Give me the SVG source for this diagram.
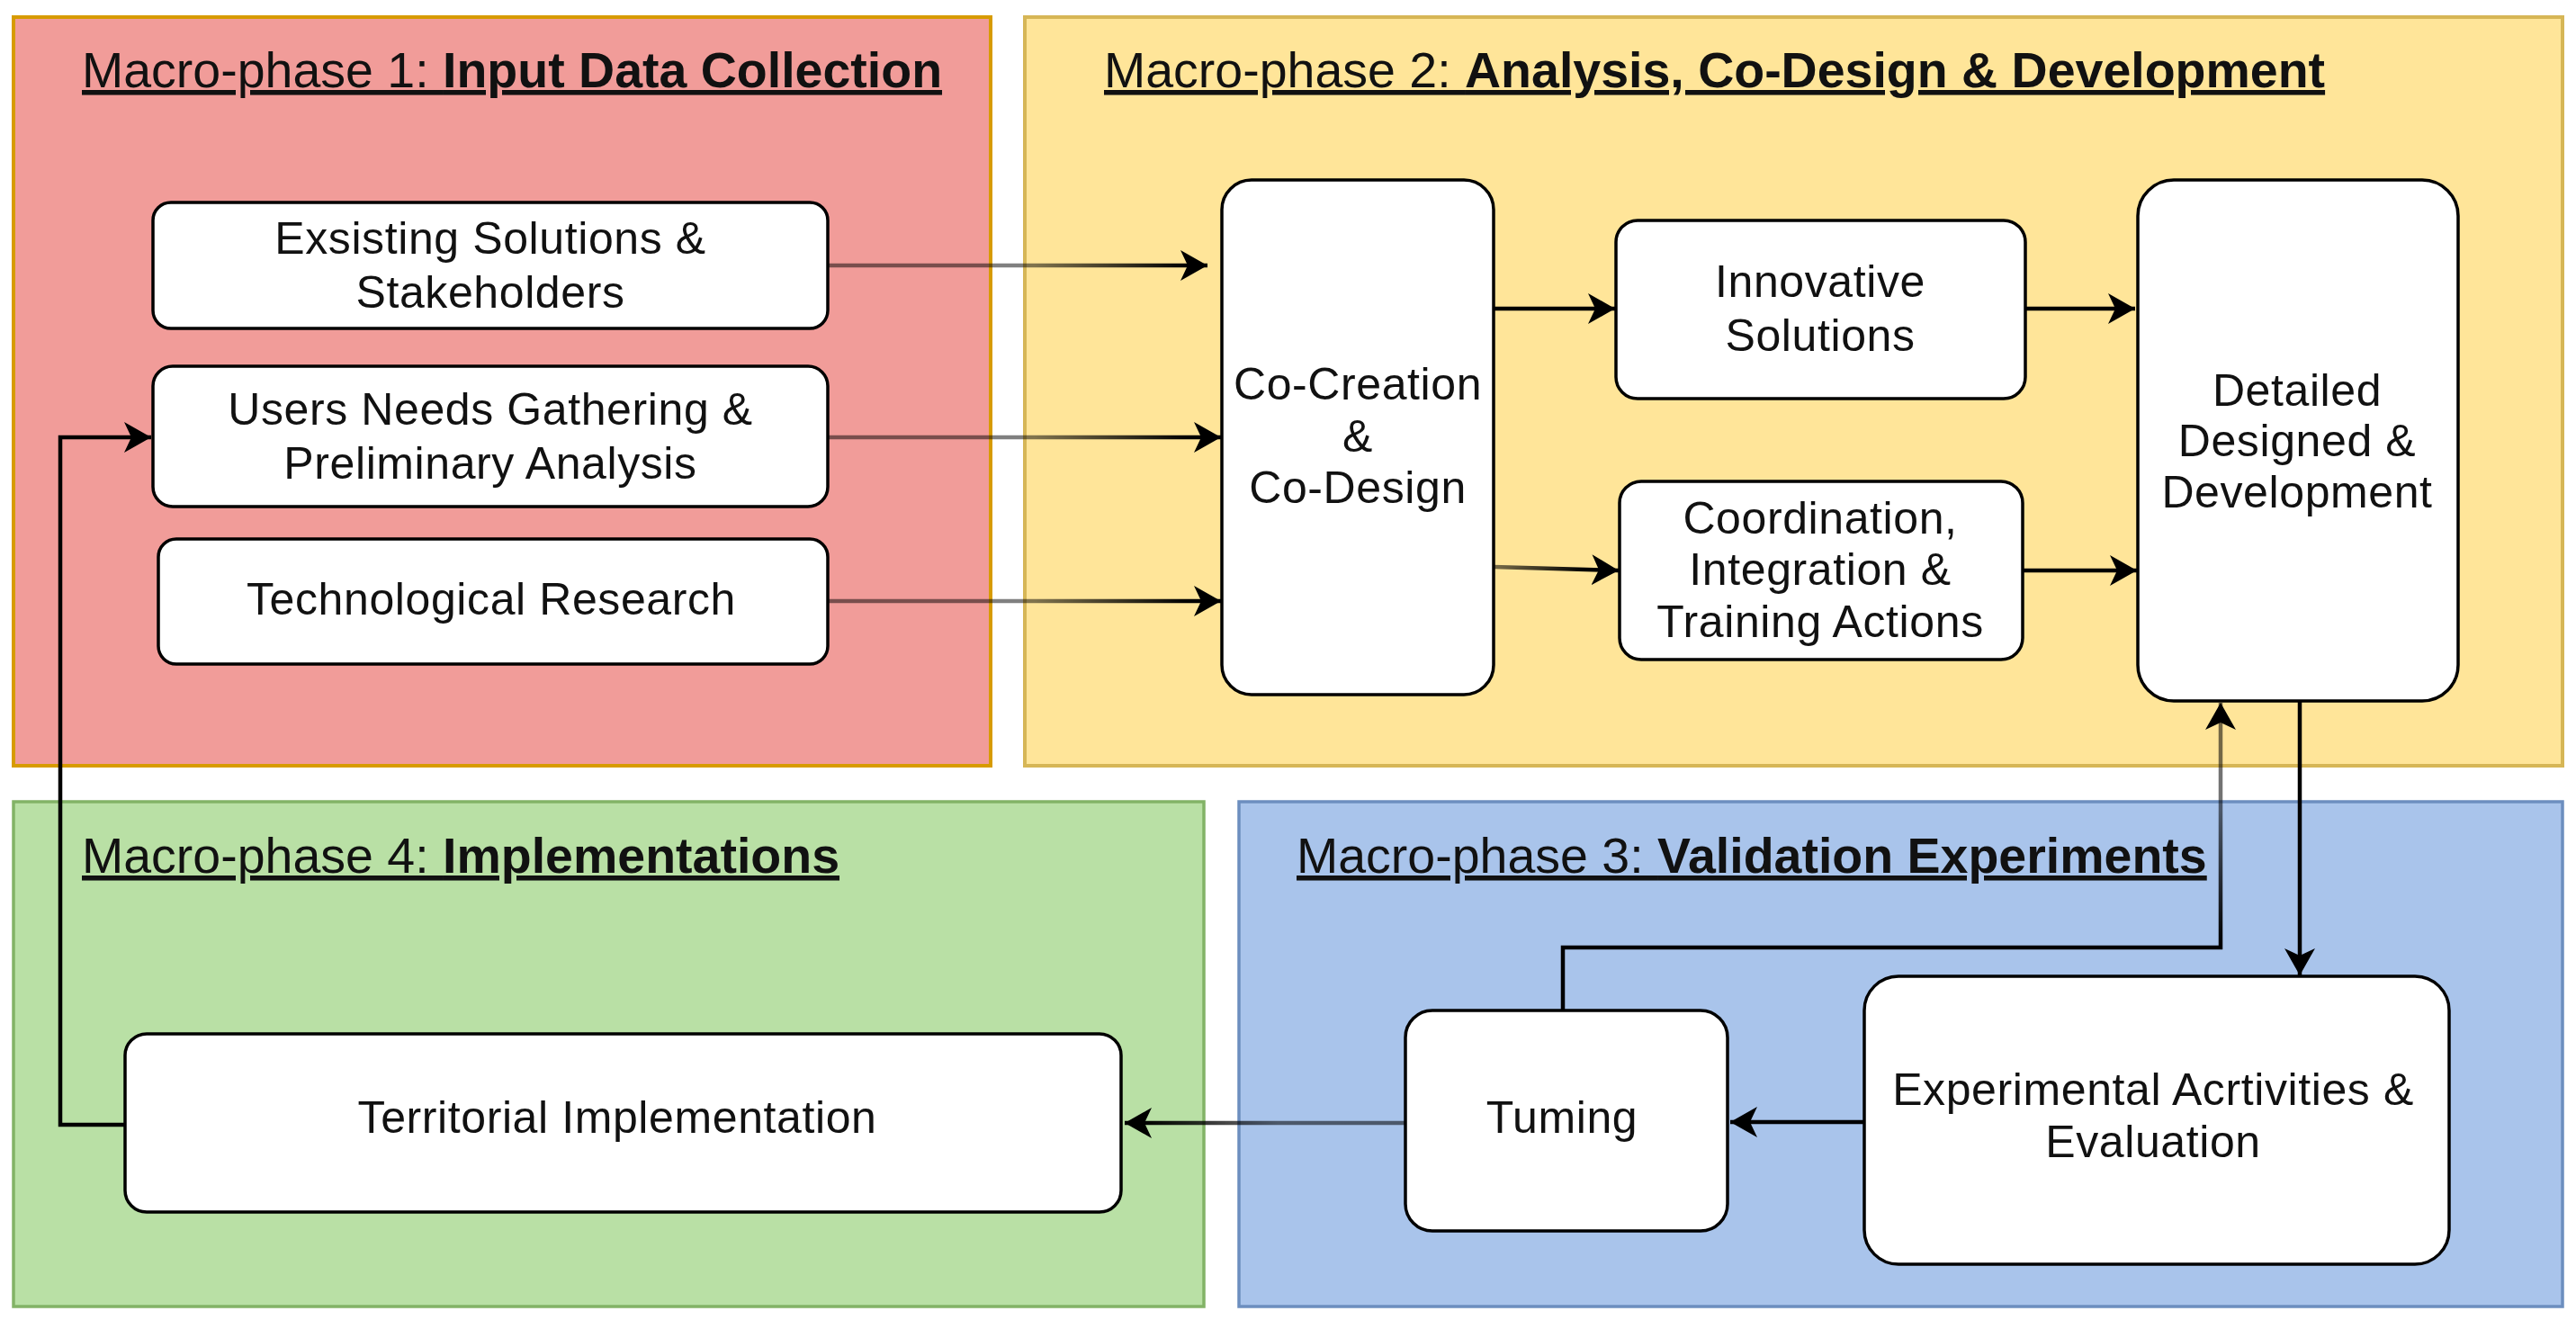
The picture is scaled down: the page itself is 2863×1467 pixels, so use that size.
<svg xmlns="http://www.w3.org/2000/svg" width="2863" height="1467" viewBox="0 0 2863 1467">
<style>
.title{font-family:"Liberation Sans",Arial,sans-serif;font-size:55.5px;fill:#111;text-decoration:underline;}
.title .b{font-weight:bold;}
.node rect{fill:#fff;stroke:#000;stroke-width:3.5;}
.node text{font-family:"Liberation Sans",Arial,sans-serif;font-size:50px;fill:#111;text-anchor:middle;letter-spacing:0.6px;}
.conn path{fill:none;stroke-width:4.5;}
</style>
<defs>
<marker id="arr" markerUnits="userSpaceOnUse" markerWidth="32" markerHeight="34" viewBox="0 0 32 34" refX="30" refY="17" orient="auto">
<path d="M0,0 L30,17 L0,34 L8,17 Z" fill="#000"/>
</marker>
<linearGradient id="gL" gradientUnits="userSpaceOnUse" x1="1150" y1="0" x2="1320" y2="0">
<stop offset="0" stop-color="#000" stop-opacity="0.5"/>
<stop offset="1" stop-color="#000" stop-opacity="1"/>
</linearGradient>
<linearGradient id="gT" gradientUnits="userSpaceOnUse" x1="1420" y1="0" x2="1270" y2="0">
<stop offset="0" stop-color="#000" stop-opacity="0.55"/>
<stop offset="1" stop-color="#000" stop-opacity="1"/>
</linearGradient>
<linearGradient id="gC" gradientUnits="userSpaceOnUse" x1="1665" y1="0" x2="1760" y2="0">
<stop offset="0" stop-color="#000" stop-opacity="0.55"/>
<stop offset="1" stop-color="#000" stop-opacity="1"/>
</linearGradient>
<linearGradient id="gV" gradientUnits="userSpaceOnUse" x1="0" y1="1050" x2="0" y2="900">
<stop offset="0" stop-color="#000" stop-opacity="1"/>
<stop offset="1" stop-color="#000" stop-opacity="0.55"/>
</linearGradient>
</defs>

<g id="phase1">
<rect x="15" y="19" width="1086" height="832" fill="#F19C99" stroke="#D79B00" stroke-width="4"/>
<text class="title" x="91" y="97">Macro-phase 1: <tspan class="b">Input Data Collection</tspan></text>
</g>
<g id="phase2">
<rect x="1139" y="19" width="1709" height="832" fill="#FFE599" stroke="#D6B656" stroke-width="4"/>
<text class="title" x="1227" y="97">Macro-phase 2: <tspan class="b">Analysis, Co-Design &amp; Development</tspan></text>
</g>
<g id="phase4">
<rect x="15" y="891" width="1323" height="561" fill="#B9E0A5" stroke="#82B366" stroke-width="3.5"/>
<text class="title" x="91" y="970">Macro-phase 4: <tspan class="b">Implementations</tspan></text>
</g>
<g id="phase3">
<rect x="1377" y="891" width="1471" height="561" fill="#A9C4EB" stroke="#6C8EBF" stroke-width="3.5"/>
<text class="title" x="1441" y="970">Macro-phase 3: <tspan class="b">Validation Experiments</tspan></text>
</g>

<g id="connectors" class="conn">
<path d="M920,295 H1342" stroke="url(#gL)" marker-end="url(#arr)"/>
<path d="M920,486 H1357" stroke="url(#gL)" marker-end="url(#arr)"/>
<path d="M920,668 H1357" stroke="url(#gL)" marker-end="url(#arr)"/>
<path d="M1660,343 H1795" stroke="#000" marker-end="url(#arr)"/>
<path d="M1660,630 L1799,634" stroke="url(#gC)" marker-end="url(#arr)"/>
<path d="M2251,343 H2373" stroke="#000" marker-end="url(#arr)"/>
<path d="M2248,634 H2375" stroke="#000" marker-end="url(#arr)"/>
<path d="M2556,779 V1084" stroke="#000" stroke-width="3" marker-end="url(#arr)"/>
<path d="M1737,1123 V1053 H2468 V781" stroke="url(#gV)" stroke-width="3.5" marker-end="url(#arr)"/>
<path d="M2072,1247 H1923" stroke="#000" marker-end="url(#arr)"/>
<path d="M1562,1248 H1250" stroke="url(#gT)" marker-end="url(#arr)"/>
<path d="M139,1250 H67 V486 H168" stroke="#000" stroke-width="3" marker-end="url(#arr)"/>
</g>

<g id="n-existing" class="node">
<rect x="170" y="225" width="750" height="140" rx="20"/>
<text x="545" y="282">Exsisting Solutions &amp;</text>
<text x="545" y="342">Stakeholders</text>
</g>
<g id="n-users" class="node">
<rect x="170" y="407" width="750" height="156" rx="22"/>
<text x="545" y="472">Users Needs Gathering &amp;</text>
<text x="545" y="532">Preliminary Analysis</text>
</g>
<g id="n-tech" class="node">
<rect x="176" y="599" width="744" height="139" rx="20"/>
<text x="546" y="683">Technological Research</text>
</g>
<g id="n-cocreation" class="node">
<rect x="1358" y="200" width="302" height="572" rx="33"/>
<text x="1509" y="444">Co-Creation</text>
<text x="1509" y="502">&amp;</text>
<text x="1509" y="559">Co-Design</text>
</g>
<g id="n-innovative" class="node">
<rect x="1796" y="245" width="455" height="198" rx="24"/>
<text x="2023" y="330">Innovative</text>
<text x="2023" y="390">Solutions</text>
</g>
<g id="n-coordination" class="node">
<rect x="1800" y="535" width="448" height="198" rx="24"/>
<text x="2023" y="593">Coordination,</text>
<text x="2023" y="650">Integration &amp;</text>
<text x="2023" y="708">Training Actions</text>
</g>
<g id="n-detailed" class="node">
<rect x="2376" y="200" width="356" height="579" rx="40"/>
<text x="2553" y="451">Detailed</text>
<text x="2553" y="507">Designed &amp;</text>
<text x="2553" y="564">Development</text>
</g>
<g id="n-experimental" class="node">
<rect x="2072" y="1085" width="650" height="320" rx="38"/>
<text x="2393" y="1228">Experimental Acrtivities &amp;</text>
<text x="2393" y="1286">Evaluation</text>
</g>
<g id="n-tuming" class="node">
<rect x="1562" y="1123" width="358" height="245" rx="30"/>
<text x="1736" y="1259">Tuming</text>
</g>
<g id="n-territorial" class="node">
<rect x="139" y="1149" width="1107" height="198" rx="24"/>
<text x="686" y="1259">Territorial Implementation</text>
</g>
</svg>
